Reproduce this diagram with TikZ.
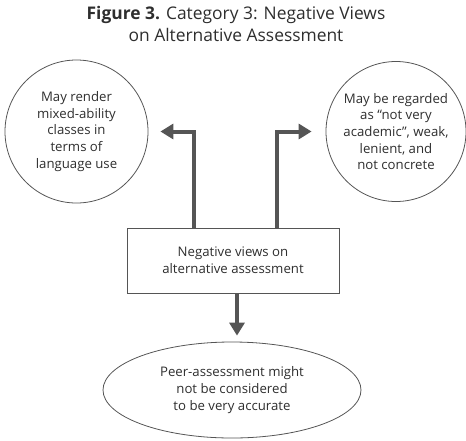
\documentclass[tikz,border=0pt]{standalone}
\usepackage{fontspec}
\setmainfont{Open Sans}
\usetikzlibrary{arrows.meta,shapes.geometric}
\definecolor{linegray}{HTML}{555555}
\definecolor{textgray}{HTML}{2E2E2E}
\tikzset{
  idea/.style={shape=circle, draw=linegray, line width=0.8pt, align=center, text=textgray,
    font=\fontsize{13.2}{16.7}\selectfont, inner sep=0pt},
  fat/.style={draw=linegray, line width=4pt, -{Triangle[length=13pt,width=15pt]}}
}
\begin{document}
\begin{tikzpicture}[x=1pt,y=-1pt]
  \useasboundingbox (0,0) rectangle (466,440);
  % title
  \node[align=center, text=textgray, font=\fontsize{17.4}{22}\selectfont] (title) at (236,24)
    {\textbf{Figure 3.} Category 3: Negative Views\\on Alternative Assessment};

  % nodes
  \node[idea, minimum size=143pt] (left) at (76.5,131.5)
    {May render\\mixed-ability\\classes in\\terms of\\language use};
  \node[idea, minimum size=140pt] (right) at (396,131.5)
    {May be regarded\\as ``not very\\academic'', weak,\\lenient, and\\not concrete};
  \node[shape=rectangle, draw=linegray, line width=0.8pt, minimum width=212pt, minimum height=65pt,
    align=center, text=textgray, font=\fontsize{13.2}{16.7}\selectfont] (main) at (233,260.5)
    {Negative views on\\alternative assessment};
  \node[shape=ellipse, draw=linegray, line width=0.8pt, minimum width=258pt, minimum height=96pt,
    inner sep=0pt, align=center, text=textgray, font=\fontsize{13.2}{16.7}\selectfont] (peer) at (232,390)
    {Peer-assessment might\\not be considered\\to be very accurate};

  % arrows
  \draw[fat] ([xshift=-39pt]main.north) |- ([xshift=12pt]left.east);
  \draw[fat] ([xshift=44pt]main.north) |- ([xshift=-14pt]right.west);
  \draw[fat] ([xshift=4pt]main.south) -- ([xshift=5pt,yshift=6pt]peer.north);
\end{tikzpicture}
\end{document}
